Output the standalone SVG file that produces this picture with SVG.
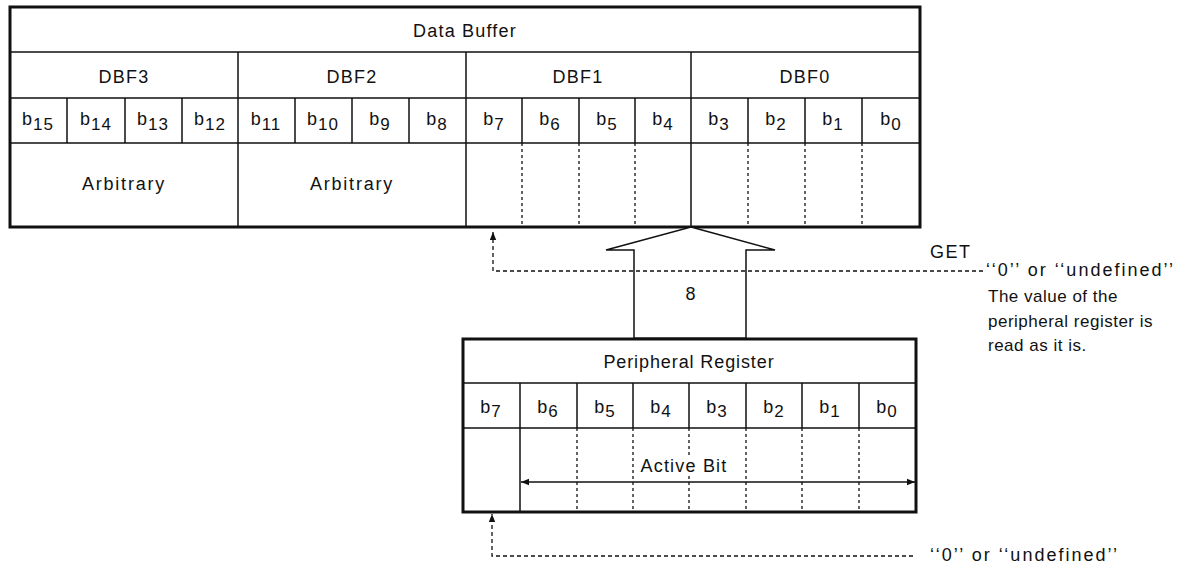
<svg xmlns="http://www.w3.org/2000/svg" width="1181" height="571" viewBox="0 0 1181 571">
<style>
text{font-family:"Liberation Sans",Arial,sans-serif;fill:#111;}
.t{font-size:18px;text-anchor:middle;letter-spacing:1.2px;}
.b{font-size:18px;text-anchor:middle;letter-spacing:1px;}
.s{font-size:17px;}
.n{font-size:17px;letter-spacing:0.5px;}
.q{font-size:18px;letter-spacing:2px;}
.outer{fill:#fff;stroke:#111;stroke-width:3;}
.ln{stroke:#111;stroke-width:1.5;fill:none;}
.dl{stroke:#111;stroke-width:1.3;stroke-dasharray:3,3;fill:none;}
.dc{stroke:#111;stroke-width:1.3;stroke-dasharray:4,3;fill:none;}
</style>
<defs>
<marker id="ah" viewBox="0 0 10 10" refX="10" refY="5" markerWidth="10" markerHeight="8" markerUnits="userSpaceOnUse" orient="auto-start-reverse">
<path d="M0,1 L10,5 L0,9 z" fill="#111"/>
</marker>
</defs>
<rect width="1181" height="571" fill="#fff"/>

<g id="data-buffer">
<rect class="outer" x="10" y="7" width="910" height="220"/>
<path class="ln" d="M10 52H920M10 98H920M10 143H920"/>
<path class="ln" d="M238 52V227M466 52V227M691 52V227"/>
<path class="ln" d="M67 98V143M125 98V143M182 98V143M295 98V143M352 98V143M409 98V143M522 98V143M579 98V143M635 98V143M748 98V143M805 98V143M862 98V143"/>
<path class="dl" d="M522 143V227M579 143V227M635 143V227M748 143V227M805 143V227M862 143V227"/>
<text class="t" x="465" y="37">Data Buffer</text>
<text class="t" x="124" y="83">DBF3</text>
<text class="t" x="352" y="83">DBF2</text>
<text class="t" x="578" y="83">DBF1</text>
<text class="t" x="805" y="83">DBF0</text>
<text class="b" x="38" y="125">b<tspan class="s" dy="5">15</tspan></text>
<text class="b" x="96" y="125">b<tspan class="s" dy="5">14</tspan></text>
<text class="b" x="153" y="125">b<tspan class="s" dy="5">13</tspan></text>
<text class="b" x="210" y="125">b<tspan class="s" dy="5">12</tspan></text>
<text class="b" x="266" y="125">b<tspan class="s" dy="5">11</tspan></text>
<text class="b" x="323" y="125">b<tspan class="s" dy="5">10</tspan></text>
<text class="b" x="380" y="125">b<tspan class="s" dy="5">9</tspan></text>
<text class="b" x="437" y="125">b<tspan class="s" dy="5">8</tspan></text>
<text class="b" x="494" y="125">b<tspan class="s" dy="5">7</tspan></text>
<text class="b" x="550" y="125">b<tspan class="s" dy="5">6</tspan></text>
<text class="b" x="607" y="125">b<tspan class="s" dy="5">5</tspan></text>
<text class="b" x="663" y="125">b<tspan class="s" dy="5">4</tspan></text>
<text class="b" x="719" y="125">b<tspan class="s" dy="5">3</tspan></text>
<text class="b" x="776" y="125">b<tspan class="s" dy="5">2</tspan></text>
<text class="b" x="833" y="125">b<tspan class="s" dy="5">1</tspan></text>
<text class="b" x="891" y="125">b<tspan class="s" dy="5">0</tspan></text>
<text class="t" x="124" y="190" style="letter-spacing:1.8px">Arbitrary</text>
<text class="t" x="352" y="190" style="letter-spacing:1.8px">Arbitrary</text>
</g>

<g id="peripheral-register">
<rect class="outer" x="463" y="339" width="453" height="173"/>
<path class="ln" d="M463 383H916M463 428H916"/>
<path class="ln" d="M520 383V512M577 383V428M633 383V428M689 383V428M746 383V428M802 383V428M859 383V428"/>
<path class="dl" d="M577 428V512M633 428V512M689 428V512M746 428V512M802 428V512M859 428V512"/>
<text class="t" x="689" y="368" style="letter-spacing:0.9px">Peripheral Register</text>
<text class="b" x="491" y="413">b<tspan class="s" dy="4">7</tspan></text>
<text class="b" x="548" y="413">b<tspan class="s" dy="4">6</tspan></text>
<text class="b" x="605" y="413">b<tspan class="s" dy="4">5</tspan></text>
<text class="b" x="661" y="413">b<tspan class="s" dy="4">4</tspan></text>
<text class="b" x="717" y="413">b<tspan class="s" dy="4">3</tspan></text>
<text class="b" x="774" y="413">b<tspan class="s" dy="4">2</tspan></text>
<text class="b" x="830" y="413">b<tspan class="s" dy="4">1</tspan></text>
<text class="b" x="887" y="413">b<tspan class="s" dy="4">0</tspan></text>
<rect x="636" y="455" width="96" height="20" fill="#fff"/>
<text class="t" x="684" y="472">Active Bit</text>
<line class="ln" x1="521" y1="482" x2="915" y2="482" marker-start="url(#ah)" marker-end="url(#ah)"/>
</g>

<g id="connectors">
<polygon class="ln" points="691,227 775,250 746,250 746,338 634,338 634,250 606,250" style="fill:#fff"/>
<text class="t" x="691" y="300" style="font-size:18px">8</text>
<path class="dc" d="M983 271H493V232" marker-end="url(#ah)"/>
<path class="dc" d="M913 556H492V514" marker-end="url(#ah)"/>
</g>

<g id="labels">
<text class="n" x="930" y="258" style="font-size:18px;letter-spacing:1.5px">GET</text>
<text class="q" x="986" y="276">‘‘0’’ or ‘‘undefined’’</text>
<text class="n" x="988" y="302">The value of the</text>
<text class="n" x="988" y="327">peripheral register is</text>
<text class="n" x="988" y="351">read as it is.</text>
<text class="q" x="930" y="561">‘‘0’’ or ‘‘undefined’’</text>
</g>
</svg>
